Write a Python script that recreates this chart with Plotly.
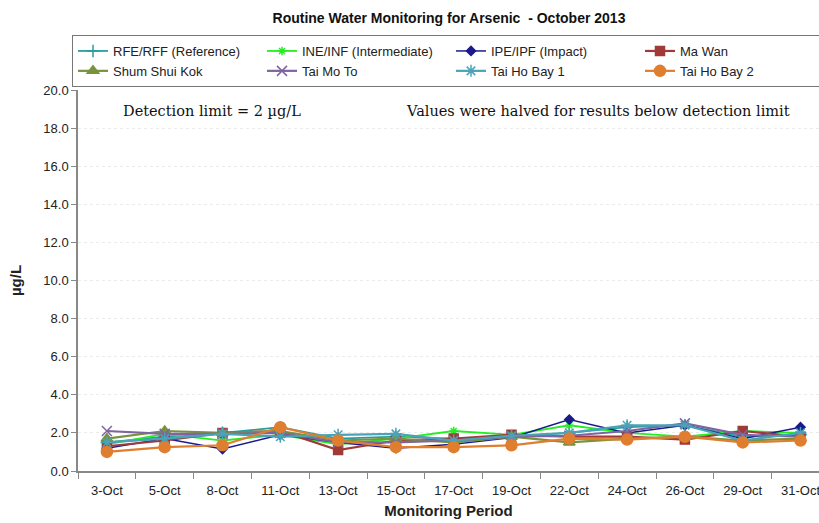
import plotly.graph_objects as go

dates = ["3-Oct", "5-Oct", "8-Oct", "11-Oct", "13-Oct", "15-Oct", "17-Oct",
         "19-Oct", "22-Oct", "24-Oct", "26-Oct", "29-Oct", "31-Oct"]

rfe = [1.5, 1.8, 2.0, 2.3, 1.7, 1.8, 1.7, 1.8, 2.0, 2.3, 2.4, 1.8, 1.9]
ine = [1.4, 1.95, 1.6, 1.9, 1.4, 1.7, 2.1, 1.9, 2.4, 2.0, 1.8, 2.1, 2.0]
ipe = [1.2, 1.7, 1.15, 1.9, 1.5, 1.2, 1.4, 1.75, 2.7, 2.0, 2.4, 1.7, 2.3]
ma_wan = [1.3, 1.6, 2.0, 2.1, 1.1, 1.6, 1.7, 1.9, 1.8, 1.8, 1.65, 2.1, 1.8]
shum_shui_kok = [1.7, 2.1, 2.0, 2.1, 1.6, 1.7, 1.5, 1.8, 1.5, 1.7, 1.8, 1.6, 1.7]
tai_mo_to = [2.1, 1.95, 1.95, 2.0, 1.5, 1.5, 1.6, 1.8, 1.85, 2.1, 2.5, 1.9, 1.8]
tai_ho_bay_1 = [1.5, 1.7, 1.95, 1.8, 1.9, 1.95, 1.6, 1.85, 2.0, 2.4, 2.4, 1.6, 2.0]
tai_ho_bay_2 = [1.0, 1.25, 1.35, 2.3, 1.6, 1.25, 1.25, 1.35, 1.7, 1.65, 1.8, 1.5, 1.6]

series = [
    ("RFE/RFF (Reference)", rfe, "#2A9D9D", "cross-thin-open", 9, 1.8),
    ("INE/INF (Intermediate)", ine, "#22EE22", "asterisk-open", 7, 1.8),
    ("IPE/IPF (Impact)", ipe, "#1A1A8C", "diamond", 7, 1.5),
    ("Ma Wan", ma_wan, "#A03A38", "square", 9, 2.2),
    ("Shum Shui Kok", shum_shui_kok, "#77933C", "triangle-up", 10, 2.2),
    ("Tai Mo To", tai_mo_to, "#8064A2", "x-thin-open", 10, 2.2),
    ("Tai Ho Bay 1", tai_ho_bay_1, "#4AA3B8", "asterisk-open", 10, 2.2),
    ("Tai Ho Bay 2", tai_ho_bay_2, "#E07E30", "circle", 11, 2.2),
]

W, H = 819, 523
ML, MR, MT, MB = 78, 0, 90, 52
PW = W - ML - MR
PH = H - MT - MB

fig = go.Figure()
for name, vals, color, sym, size, lw in series:
    fig.add_trace(go.Scatter(
        x=dates, y=vals, name=name, mode="lines+markers",
        line=dict(color=color, width=lw),
        marker=dict(symbol=sym, size=size, color=color,
                    line=dict(color=color, width=1.5)),
    ))

serif = dict(family="DejaVu Serif, Liberation Serif, serif", size=14.5, color="#111")

fig.update_layout(
    width=W, height=H,
    paper_bgcolor="white", plot_bgcolor="white",
    margin=dict(l=ML, r=MR, t=MT, b=MB, autoexpand=False),
    font=dict(family="Arial, Liberation Sans, sans-serif", size=13, color="#222"),
    title=dict(text="<b>Routine Water Monitoring for Arsenic  - October 2013</b>",
               x=449 / W, xanchor="center", y=1 - 18 / H, yanchor="middle",
               font=dict(size=14, color="#111")),
    showlegend=True,
    legend=dict(orientation="h", x=(72 - ML) / PW, xanchor="left",
                y=(H - MB - 35) / PH, yanchor="top",
                bordercolor="#777", borderwidth=1, bgcolor="white",
                entrywidth=144, entrywidthmode="pixels",
                font=dict(size=13, color="#222"), tracegroupgap=0,
                itemwidth=30),
    xaxis=dict(
        type="category", range=[-0.5, 12.32],
        title=dict(text="<b>Monitoring Period</b>", font=dict(size=15, color="#222"), standoff=8),
        showline=True, linecolor="#888", linewidth=1.5,
        ticks="outside", tickson="boundaries", ticklen=6, tickcolor="#888",
        ticklabelstandoff=7,
        showgrid=False, tickfont=dict(size=13, color="#222"),
    ),
    yaxis=dict(
        range=[0, 20], dtick=2, tickformat=".1f",
        title=dict(text="<b>µg/L</b>", font=dict(size=15, color="#222"), standoff=18),
        showline=True, linecolor="#888", linewidth=1.5,
        ticks="outside", ticklen=5, tickcolor="#888",
        showgrid=True, gridcolor="#EBEBEB", griddash="dot", gridwidth=1,
        zeroline=False, tickfont=dict(size=13, color="#222"),
    ),
    annotations=[
        dict(text="Detection limit = 2 µg/L", x=(121 - ML) / PW, xref="paper",
             y=(H - MB - 111) / PH, yref="paper", xanchor="left", yanchor="middle",
             showarrow=False, font=serif),
        dict(text="Values were halved for results below detection limit",
             x=(404 - ML) / PW, xref="paper", y=(H - MB - 111) / PH, yref="paper",
             xanchor="left", yanchor="middle", showarrow=False, font=serif),
    ],
)

fig.write_html("out.html", config={"displayModeBar": False},
               post_script="document.body.style.margin='0';")
